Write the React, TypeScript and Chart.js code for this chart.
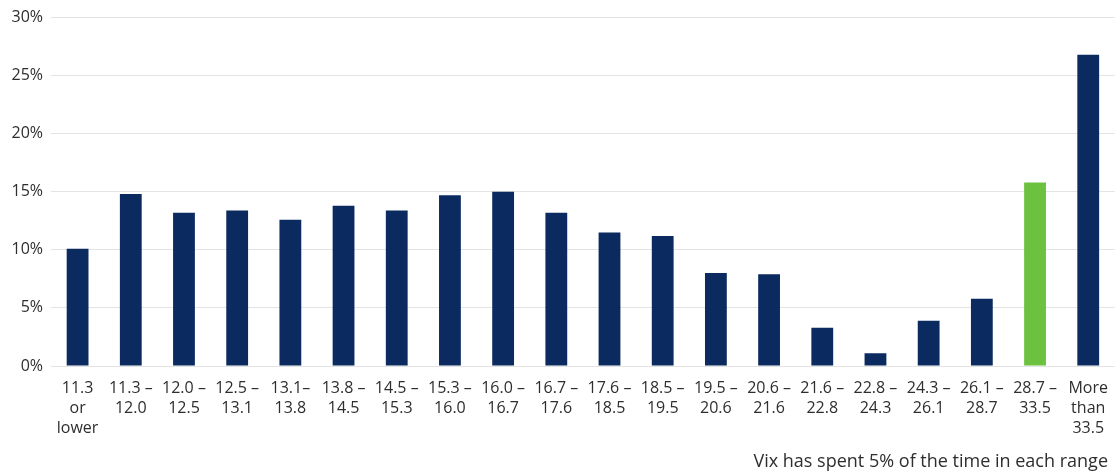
import React, { useEffect, useRef } from "react";
import { Chart, registerables } from "chart.js";

Chart.register(...registerables);

const categories: string[][] = [
  ["11.3", "or", "lower"],
  ["11.3 –", "12.0"],
  ["12.0 –", "12.5"],
  ["12.5 –", "13.1"],
  ["13.1–", "13.8"],
  ["13.8 –", "14.5"],
  ["14.5 –", "15.3"],
  ["15.3 –", "16.0"],
  ["16.0 –", "16.7"],
  ["16.7 –", "17.6"],
  ["17.6 –", "18.5"],
  ["18.5 –", "19.5"],
  ["19.5 –", "20.6"],
  ["20.6 –", "21.6"],
  ["21.6 –", "22.8"],
  ["22.8 –", "24.3"],
  ["24.3 –", "26.1"],
  ["26.1 –", "28.7"],
  ["28.7 –", "33.5"],
  ["More", "than", "33.5"],
];

const values: number[] = [
  10.1, 14.8, 13.2, 13.4, 12.6, 13.8, 13.4, 14.7, 15.0, 13.2,
  11.5, 11.2, 8.0, 7.9, 3.3, 1.1, 3.9, 5.8, 15.8, 26.8,
];

const highlightIndex = 18;
const caption = "Vix has spent 5% of the time in each range";

const NAVY = "#0b2a60";
const GREEN = "#6cc13f";
const TEXT = "#2e2e2e";
const FONT = "'Open Sans', sans-serif";

export default function App() {
  const ref = useRef<HTMLCanvasElement | null>(null);

  useEffect(() => {
    document.body.style.margin = "0";
    const canvas = ref.current;
    if (!canvas) return;
    const chart = new Chart(canvas, {
      type: "bar",
      data: {
        labels: categories,
        datasets: [
          {
            data: values,
            backgroundColor: values.map((_, i) => (i === highlightIndex ? GREEN : NAVY)),
            barPercentage: 0.41,
            categoryPercentage: 1,
          },
        ],
      },
      options: {
        animation: false,
        responsive: false,
        maintainAspectRatio: false,
        layout: { padding: { top: 15, right: 0, bottom: 18, left: 0 } },
        plugins: {
          legend: { display: false },
          tooltip: { enabled: false },
        },
        scales: {
          x: {
            grid: { display: false, drawTicks: false },
            border: { display: false },
            ticks: {
              color: TEXT,
              font: { family: FONT, size: 16, lineHeight: 1.25 },
              padding: 12,
              maxRotation: 0,
              autoSkip: false,
            },
            afterFit: (s: any) => {
              s.height = 90;
            },
          },
          y: {
            min: 0,
            max: 30,
            grid: { color: "#e3e3e3", lineWidth: 1, drawTicks: false },
            border: { display: false },
            ticks: {
              stepSize: 5,
              color: TEXT,
              font: { family: FONT, size: 16 },
              padding: 8,
              callback: (v: any) => `${v}%`,
            },
            afterFit: (s: any) => {
              s.width = 51;
            },
          },
        },
      },
    });
    return () => chart.destroy();
  }, []);

  return (
    <div style={{ position: "relative", width: 1117, height: 474, overflow: "hidden", background: "#fff" }}>
      <canvas ref={ref} width={1120} height={474} style={{ display: "block" }} />
      <div
        style={{
          position: "absolute",
          right: 9,
          top: 447,
          fontFamily: FONT,
          fontSize: 18,
          lineHeight: "26px",
          color: TEXT,
          whiteSpace: "nowrap",
        }}
      >
        {caption}
      </div>
    </div>
  );
}
